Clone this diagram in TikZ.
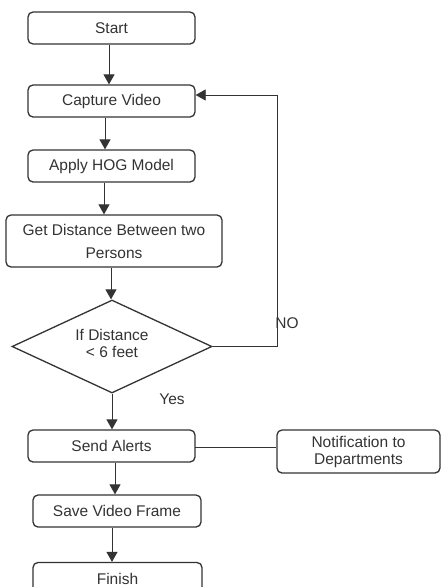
\documentclass[tikz,border=0pt]{standalone}
\usepackage{fontspec}
\setmainfont{Liberation Sans}
\usetikzlibrary{shapes.geometric,arrows.meta,calc}
\definecolor{ink}{HTML}{333333}
\definecolor{txt}{HTML}{333333}
\begin{document}
\begin{tikzpicture}[x=1pt,y=-1pt,
  box/.style={draw=ink,line width=1.3pt,rounded corners=5pt,inner sep=0pt,
    text=txt,font=\fontsize{15.5}{17}\selectfont,align=center},
  dec/.style={draw=ink,line width=1.3pt,diamond,inner sep=0pt,
    minimum width=200pt,minimum height=93pt},
  arr/.style={draw=ink,line width=0.9pt,-{Triangle[width=11pt,length=10pt]}},
  plain/.style={draw=ink,line width=0.8pt},
  lbl/.style={text=txt,font=\fontsize{15.5}{17}\selectfont,inner sep=0pt}]
\clip (0,0) rectangle (441,587);
\fill[white] (0,0) rectangle (441,587);

\node[box,minimum width=167pt,minimum height=32pt] (start) at (111.5,28) {Start};
\node[box,minimum width=167pt,minimum height=32pt] (cap) at (111.5,101) {Capture Video};
\node[box,minimum width=167pt,minimum height=32pt] (hog) at (111.5,166) {Apply HOG Model};
\node[box,minimum width=216pt,minimum height=52pt,font=\fontsize{15.5}{23}\selectfont] (get) at (114,241) {Get Distance Between two\\Persons};
\node[dec] (dec) at (112,346.5) {};
\node[lbl,align=center] (dectext) at (112,343) {If Distance\\< 6 feet};
\node[box,minimum width=167pt,minimum height=32pt] (send) at (111.5,446) {Send Alerts};
\node[box,minimum width=163pt,minimum height=43pt] (notif) at (358.5,451.5) {Notification to\\Departments};
\node[box,minimum width=168pt,minimum height=32pt] (save) at (117,511) {Save Video Frame};
\node[box,minimum width=169pt,minimum height=32pt] (fin) at (117.5,578.5) {Finish};

\node[lbl] (no) at (287,323) {NO};
\node[lbl] (yes) at (172,399) {Yes};

\draw[arr] ([xshift=-2.5pt]start.south) -- ([xshift=-2.5pt]start.south |- cap.north);
\draw[arr] ([xshift=-6.5pt]cap.south) -- ([xshift=-6.5pt]cap.south |- hog.north);
\draw[arr] ([xshift=-7.5pt]hog.south) -- ([xshift=-7.5pt]hog.south |- get.north);
\draw[arr] ([xshift=-3pt]get.south) -- ([xshift=-3pt]get.south |- dec.north);
\draw[arr] (dec.south) -- (dec.south |- send.north);
\draw[arr] ([xshift=3.5pt]send.south) -- ([xshift=3.5pt]send.south |- save.north);
\draw[arr] ([xshift=-5pt]save.south) -- ([xshift=-5pt]save.south |- fin.north);

\coordinate (nocorner) at (277,95);
\draw[plain,-{Triangle[width=11pt,length=10pt]}] (dec.east) -| (nocorner) -- (cap.east |- nocorner);

\coordinate (alertpt) at (195,447);
\draw[plain] (alertpt) -- (alertpt -| notif.west);
\end{tikzpicture}
\end{document}
